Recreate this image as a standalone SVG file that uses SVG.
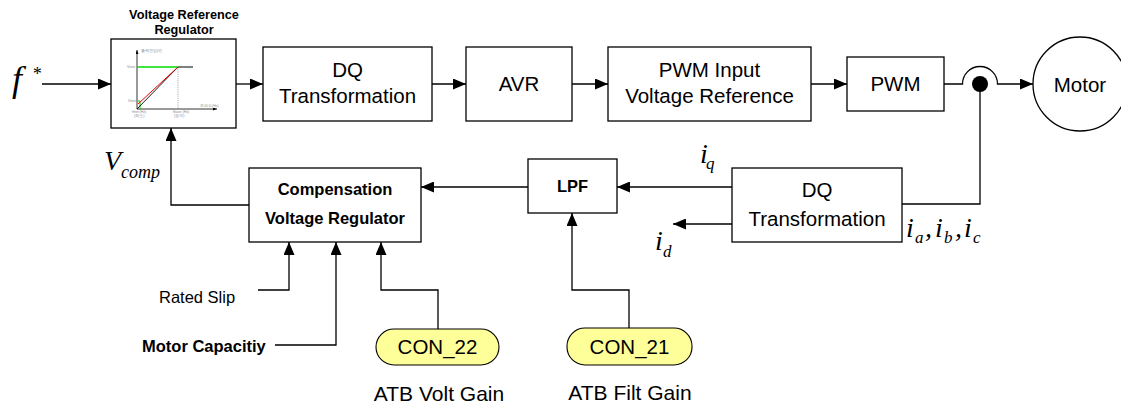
<svg xmlns="http://www.w3.org/2000/svg" width="1121" height="405" viewBox="0 0 1121 405">
  <style>
    .box { fill: #ffffff; stroke: #000000; stroke-width: 1.3; }
    .wire { fill: none; stroke: #000000; stroke-width: 1.3; }
    .pill { fill: #ffff99; stroke: #000000; stroke-width: 1.1; }
    .sans { font-family: "Liberation Sans", Arial, sans-serif; fill: #000000; }
    .lbl { font-size: 20.5px; text-anchor: middle; }
    .bold { font-weight: bold; }
    .math { font-family: "Liberation Serif", "Times New Roman", serif; font-style: italic; fill: #000000; }
    .tiny { font-family: "Liberation Sans", Arial, sans-serif; font-size: 3.5px; fill: #8a8a8a; }
  </style>
  <defs>
    <marker id="arrow" markerWidth="13" markerHeight="11" refX="13" refY="5.5" orient="auto" markerUnits="userSpaceOnUse">
      <path d="M0,0 L13,5.5 L0,11 z" fill="#000000"/>
    </marker>
    <marker id="axisArrow" markerWidth="4" markerHeight="3" refX="4" refY="1.5" orient="auto" markerUnits="userSpaceOnUse">
      <path d="M0,0 L4,1.5 L0,3 z" fill="#000000"/>
    </marker>
  </defs>

  <rect width="1121" height="405" fill="#ffffff"/>

  <!-- input reference -->
  <g id="input-f">
    <text class="math" x="12" y="91" font-size="36">f</text>
    <text class="math" x="32" y="80" font-size="18" font-style="normal">*</text>
  </g>

  <!-- voltage reference regulator with its V/f curve -->
  <g id="vrr">
    <text class="sans bold" x="184" y="19" font-size="12.7" text-anchor="middle">Voltage Reference</text>
    <text class="sans bold" x="184" y="34" font-size="12.7" text-anchor="middle">Regulator</text>
    <rect class="box" x="111" y="39" width="125" height="89"/>
    <g id="vrr-curve">
      <line x1="137" y1="109" x2="137" y2="50" stroke="#000" stroke-width="0.8" marker-end="url(#axisArrow)"/>
      <line x1="137" y1="109" x2="217" y2="109" stroke="#000" stroke-width="0.8" marker-end="url(#axisArrow)"/>
      <line x1="178" y1="67" x2="178" y2="109" stroke="#777" stroke-width="0.6" stroke-dasharray="1.2,1"/>
      <line x1="137" y1="67" x2="178" y2="67" stroke="#00dd00" stroke-width="1.3"/>
      <line x1="178" y1="67" x2="193" y2="67" stroke="#000" stroke-width="1"/>
      <polyline points="137,101 140,101 140,109" fill="none" stroke="#00dd00" stroke-width="1"/>
      <line x1="137" y1="109" x2="178" y2="67" stroke="#000" stroke-width="0.9"/>
      <line x1="138" y1="104" x2="178" y2="67" stroke="#ee0000" stroke-width="1"/>
      <text class="tiny" x="141" y="52">출력전압(V)</text>
      <text class="tiny" x="127" y="68">Vrate</text>
      <text class="tiny" x="128" y="102">Vmin</text>
      <text class="tiny" x="200" y="107">주파수(Hz)</text>
      <text class="tiny" x="132" y="113">fmin (Hz)</text>
      <text class="tiny" x="134" y="117">(최소)</text>
      <text class="tiny" x="173" y="113">fbase (Hz)</text>
      <text class="tiny" x="174" y="117">(정격)</text>
    </g>
  </g>

  <g id="dq-top">
    <rect class="box" x="263" y="47" width="169" height="74"/>
    <text class="sans lbl" x="347.5" y="77">DQ</text>
    <text class="sans lbl" x="347.5" y="103">Transformation</text>
  </g>

  <g id="avr">
    <rect class="box" x="466" y="47" width="106" height="74"/>
    <text class="sans lbl" x="519" y="91">AVR</text>
  </g>

  <g id="pwm-input">
    <rect class="box" x="608" y="47" width="203" height="74"/>
    <text class="sans lbl" x="709.5" y="77">PWM Input</text>
    <text class="sans lbl" x="709.5" y="103">Voltage Reference</text>
  </g>

  <g id="pwm">
    <rect class="box" x="847" y="57" width="97" height="54"/>
    <text class="sans lbl" x="895.5" y="91">PWM</text>
  </g>

  <g id="motor">
    <circle class="box" cx="1080" cy="84" r="47"/>
    <text class="sans lbl" x="1080" y="92">Motor</text>
  </g>

  <g id="dq-bottom">
    <rect class="box" x="732" y="168" width="170" height="74"/>
    <text class="sans lbl" x="817" y="197">DQ</text>
    <text class="sans lbl" x="817" y="226">Transformation</text>
  </g>

  <g id="lpf">
    <rect class="box" x="528" y="159" width="89" height="54"/>
    <text class="sans bold" x="572.5" y="192" font-size="16.5" text-anchor="middle">LPF</text>
  </g>

  <g id="comp-regulator">
    <rect class="box" x="249" y="168" width="172" height="74"/>
    <text class="sans bold" x="335" y="195" font-size="16.5" text-anchor="middle">Compensation</text>
    <text class="sans bold" x="335" y="224" font-size="16.5" text-anchor="middle">Voltage Regulator</text>
  </g>

  <g id="con-22">
    <rect class="pill" x="376" y="329" width="123" height="36" rx="18" ry="18"/>
    <text class="sans lbl" x="437.5" y="354">CON_22</text>
    <text class="sans" x="439" y="401" font-size="21" text-anchor="middle">ATB Volt Gain</text>
  </g>

  <g id="con-21">
    <rect class="pill" x="567" y="328" width="125" height="37" rx="18" ry="18"/>
    <text class="sans lbl" x="629.5" y="354">CON_21</text>
    <text class="sans" x="630" y="400" font-size="21" text-anchor="middle">ATB Filt Gain</text>
  </g>

  <g id="side-inputs">
    <text class="sans" x="159" y="303" font-size="16.5">Rated Slip</text>
    <text class="sans bold" x="142" y="352" font-size="16.5">Motor Capacitiy</text>
  </g>

  <!-- signal names -->
  <g id="signal-labels">
    <text class="math" x="104" y="170" font-size="28">V</text>
    <text class="math" x="121" y="178" font-size="18">comp</text>
    <text class="math" x="700" y="163" font-size="28">i</text>
    <text class="math" x="706" y="169" font-size="17">q</text>
    <text class="math" x="655" y="250" font-size="28">i</text>
    <text class="math" x="663" y="257" font-size="17">d</text>
    <text class="math" x="906" y="237" font-size="28">i</text>
    <text class="math" x="915" y="243" font-size="17">a</text>
    <text class="math" x="925" y="237" font-size="28" font-style="normal">,</text>
    <text class="math" x="935" y="237" font-size="28">i</text>
    <text class="math" x="944" y="243" font-size="17">b</text>
    <text class="math" x="955" y="237" font-size="28" font-style="normal">,</text>
    <text class="math" x="964" y="237" font-size="28">i</text>
    <text class="math" x="973" y="243" font-size="17">c</text>
  </g>

  <g id="connectors">
    <line class="wire" x1="42" y1="84" x2="111" y2="84" marker-end="url(#arrow)"/>
    <line class="wire" x1="236" y1="84" x2="263" y2="84" marker-end="url(#arrow)"/>
    <line class="wire" x1="432" y1="84" x2="466" y2="84" marker-end="url(#arrow)"/>
    <line class="wire" x1="572" y1="84" x2="608" y2="84" marker-end="url(#arrow)"/>
    <line class="wire" x1="811" y1="84" x2="847" y2="84" marker-end="url(#arrow)"/>
    <path class="wire" d="M944,84 H962.5 A17.5,17.5 0 0 1 997.5,84 H1033" marker-end="url(#arrow)"/>
    <path class="wire" d="M980,84 V204 H902"/>
    <circle cx="980" cy="84" r="8" fill="#000000"/>
    <line class="wire" x1="732" y1="187" x2="617" y2="187" marker-end="url(#arrow)"/>
    <line class="wire" x1="732" y1="224" x2="673" y2="224" marker-end="url(#arrow)"/>
    <line class="wire" x1="528" y1="187" x2="421" y2="187" marker-end="url(#arrow)"/>
    <path class="wire" d="M249,205 H171 V128" marker-end="url(#arrow)"/>
    <path class="wire" d="M258,290 H289 V242" marker-end="url(#arrow)"/>
    <path class="wire" d="M275,345 H336 V242" marker-end="url(#arrow)"/>
    <path class="wire" d="M438,329 V290 H381 V242" marker-end="url(#arrow)"/>
    <path class="wire" d="M629,328 V290 H572 V213" marker-end="url(#arrow)"/>
  </g>
</svg>
